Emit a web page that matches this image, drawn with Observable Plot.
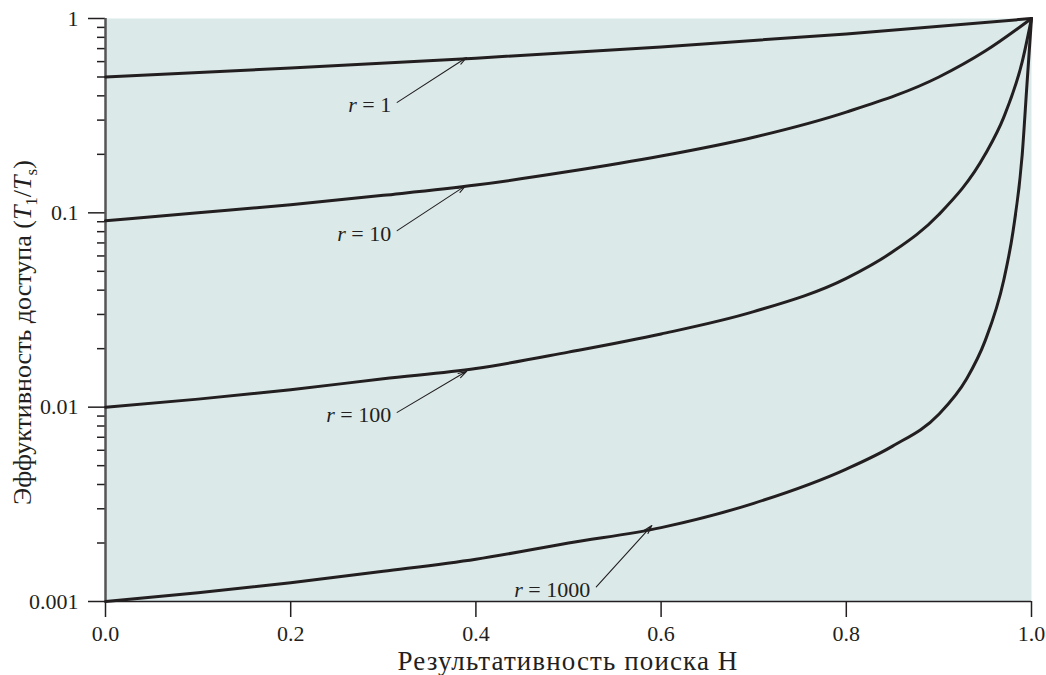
<!DOCTYPE html>
<html><head><meta charset="utf-8">
<script src="https://cdn.jsdelivr.net/npm/d3@7"></script>
<script src="https://cdn.jsdelivr.net/npm/@observablehq/plot@0.6"></script>
<style>
body{margin:0;background:#fff;overflow:hidden;}
#chart svg, #chart svg text, #chart svg tspan {font-family:"Liberation Serif","Times New Roman",serif !important;}
</style>
</head><body><div id="chart"></div><script>
// Hit ratio H and access efficiency T1/Ts
const H_r1 = [0, 0.2, 0.4, 0.6, 0.8, 1.0];
const E_r1 = [0.5, 0.556, 0.625, 0.714, 0.833, 1.0];
const H_r10 = [0, 0.1, 0.2, 0.3, 0.4, 0.5, 0.6, 0.7, 0.8, 0.9, 0.95, 1.0];
const E_r10 = [0.091, 0.1, 0.11, 0.123, 0.139, 0.163, 0.196, 0.245, 0.33, 0.5, 0.68, 1.0];
const H_r100 = [0, 0.1, 0.2, 0.3, 0.4, 0.5, 0.6, 0.7, 0.8, 0.85, 0.9, 0.95, 0.97, 0.99, 1.0];
const E_r100 = [0.01, 0.011, 0.0123, 0.014, 0.0158, 0.0192, 0.0238, 0.031, 0.046, 0.063, 0.098, 0.2, 0.31, 0.6, 1.0];
const H_r1000 = [0, 0.1, 0.2, 0.3, 0.4, 0.5, 0.6, 0.7, 0.8, 0.85, 0.9, 0.93, 0.95, 0.97, 0.98, 0.99, 0.995, 1.0];
const E_r1000 = [0.001, 0.00111, 0.00125, 0.00143, 0.00165, 0.002, 0.0024, 0.0032, 0.0048, 0.0063, 0.0092, 0.014, 0.022, 0.045, 0.08, 0.2, 0.45, 1.0];

// annotation labels and arrows (data units)
const labels = ["r = 1", "r = 10", "r = 100", "r = 1000"];
const arrowFromH = [0.315, 0.315, 0.315, 0.53];
const arrowFromE = [0.37, 0.081, 0.0094, 0.00119];
const arrowToH = [0.39, 0.389, 0.39, 0.59];
const arrowToE = [0.63, 0.138, 0.0153, 0.00246];

const xTicks = [0, 0.2, 0.4, 0.6, 0.8, 1.0];
const yTicks = [1, 0.1, 0.01, 0.001];
const yMinor = [];
for (const d of [0.001, 0.01, 0.1]) for (let k = 2; k <= 9; k++) yMinor.push(+(d * k).toPrecision(3));

const series = [
  {r: 1, H: H_r1, E: E_r1},
  {r: 10, H: H_r10, E: E_r10},
  {r: 100, H: H_r100, E: E_r100},
  {r: 1000, H: H_r1000, E: E_r1000}
];
const rows = series.flatMap(s => s.H.map((h, i) => ({r: s.r, H: h, E: s.E[i]})));
const notes = labels.map((t, i) => ({t, x1: arrowFromH[i], y1: arrowFromE[i], x2: arrowToH[i], y2: arrowToE[i]}));

const ink = "#231f20";
const plot = Plot.plot({
  width: 1046,
  height: 675,
  marginLeft: 105,
  marginRight: 15,
  marginTop: 18,
  marginBottom: 74,
  x: {domain: [0, 1]},
  y: {type: "log", domain: [0.001, 1]},
  marks: [
    Plot.frame({fill: "#dbe9e9", stroke: null}),
    Plot.axisY({ticks: yMinor, tickSize: 8, tickFormat: () => "", stroke: ink, strokeWidth: 1.5}),
    Plot.axisY({ticks: yTicks, tickSize: 17, tickPadding: 10, tickFormat: d => d3.format("~g")(d), label: null, stroke: ink, strokeWidth: 1.5, fill: ink, fontSize: 22}),
    Plot.axisX({ticks: xTicks, tickSize: 16, tickPadding: 8, tickFormat: d3.format(".1f"), label: null, stroke: ink, strokeWidth: 1.5, fill: ink, fontSize: 22}),
    Plot.ruleY([0.001], {stroke: ink, strokeWidth: 1.5}),
    Plot.ruleX([0], {stroke: "#555", strokeWidth: 2.5}),
    Plot.line(rows, {x: "H", y: "E", z: "r", stroke: ink, strokeWidth: 3, curve: "monotone-x"}),
    Plot.arrow(notes, {x1: "x1", y1: "y1", x2: "x2", y2: "y2", stroke: ink, strokeWidth: 1.1, headLength: 12, headAngle: 32}),
    Plot.text(notes, {x: "x1", y: "y1", text: "t", textAnchor: "end", dx: -6, dy: 3, fontSize: 22, fill: ink})
  ]
});

const svg = d3.select(plot);
svg.attr("font-family", '"Liberation Serif", serif');
// italic r in annotation labels
svg.selectAll("text").each(function () {
  const s = this.textContent;
  if (/^r = \d+$/.test(s)) {
    const el = d3.select(this);
    el.text(null);
    el.append("tspan").attr("font-style", "italic").text("r");
    el.append("tspan").text(s.slice(1));
  }
});

const xs = plot.scale("x");
const ys = plot.scale("y");
const xMid = (xs.range[0] + xs.range[1]) / 2;
svg.append("text")
  .attr("x", xMid).attr("y", 670)
  .attr("text-anchor", "middle")
  .attr("font-size", 27).attr("letter-spacing", 1.1).attr("fill", ink)
  .text("Результативность поиска H");

const yl = svg.append("text")
  .attr("transform", `translate(31,${(ys.range[0] + ys.range[1]) / 2 + 23}) rotate(-90)`)
  .attr("text-anchor", "middle")
  .attr("font-size", 26).attr("fill", ink);
yl.append("tspan").text("Эффуктивность доступа (");
yl.append("tspan").attr("font-style", "italic").text("T");
yl.append("tspan").attr("font-size", 17).attr("dy", 6).text("1");
yl.append("tspan").attr("dy", -6).text("/");
yl.append("tspan").attr("font-style", "italic").text("T");
yl.append("tspan").attr("font-size", 17).attr("dy", 6).text("s");
yl.append("tspan").attr("dy", -6).text(")");

document.getElementById("chart").append(plot);
</script></body></html>
